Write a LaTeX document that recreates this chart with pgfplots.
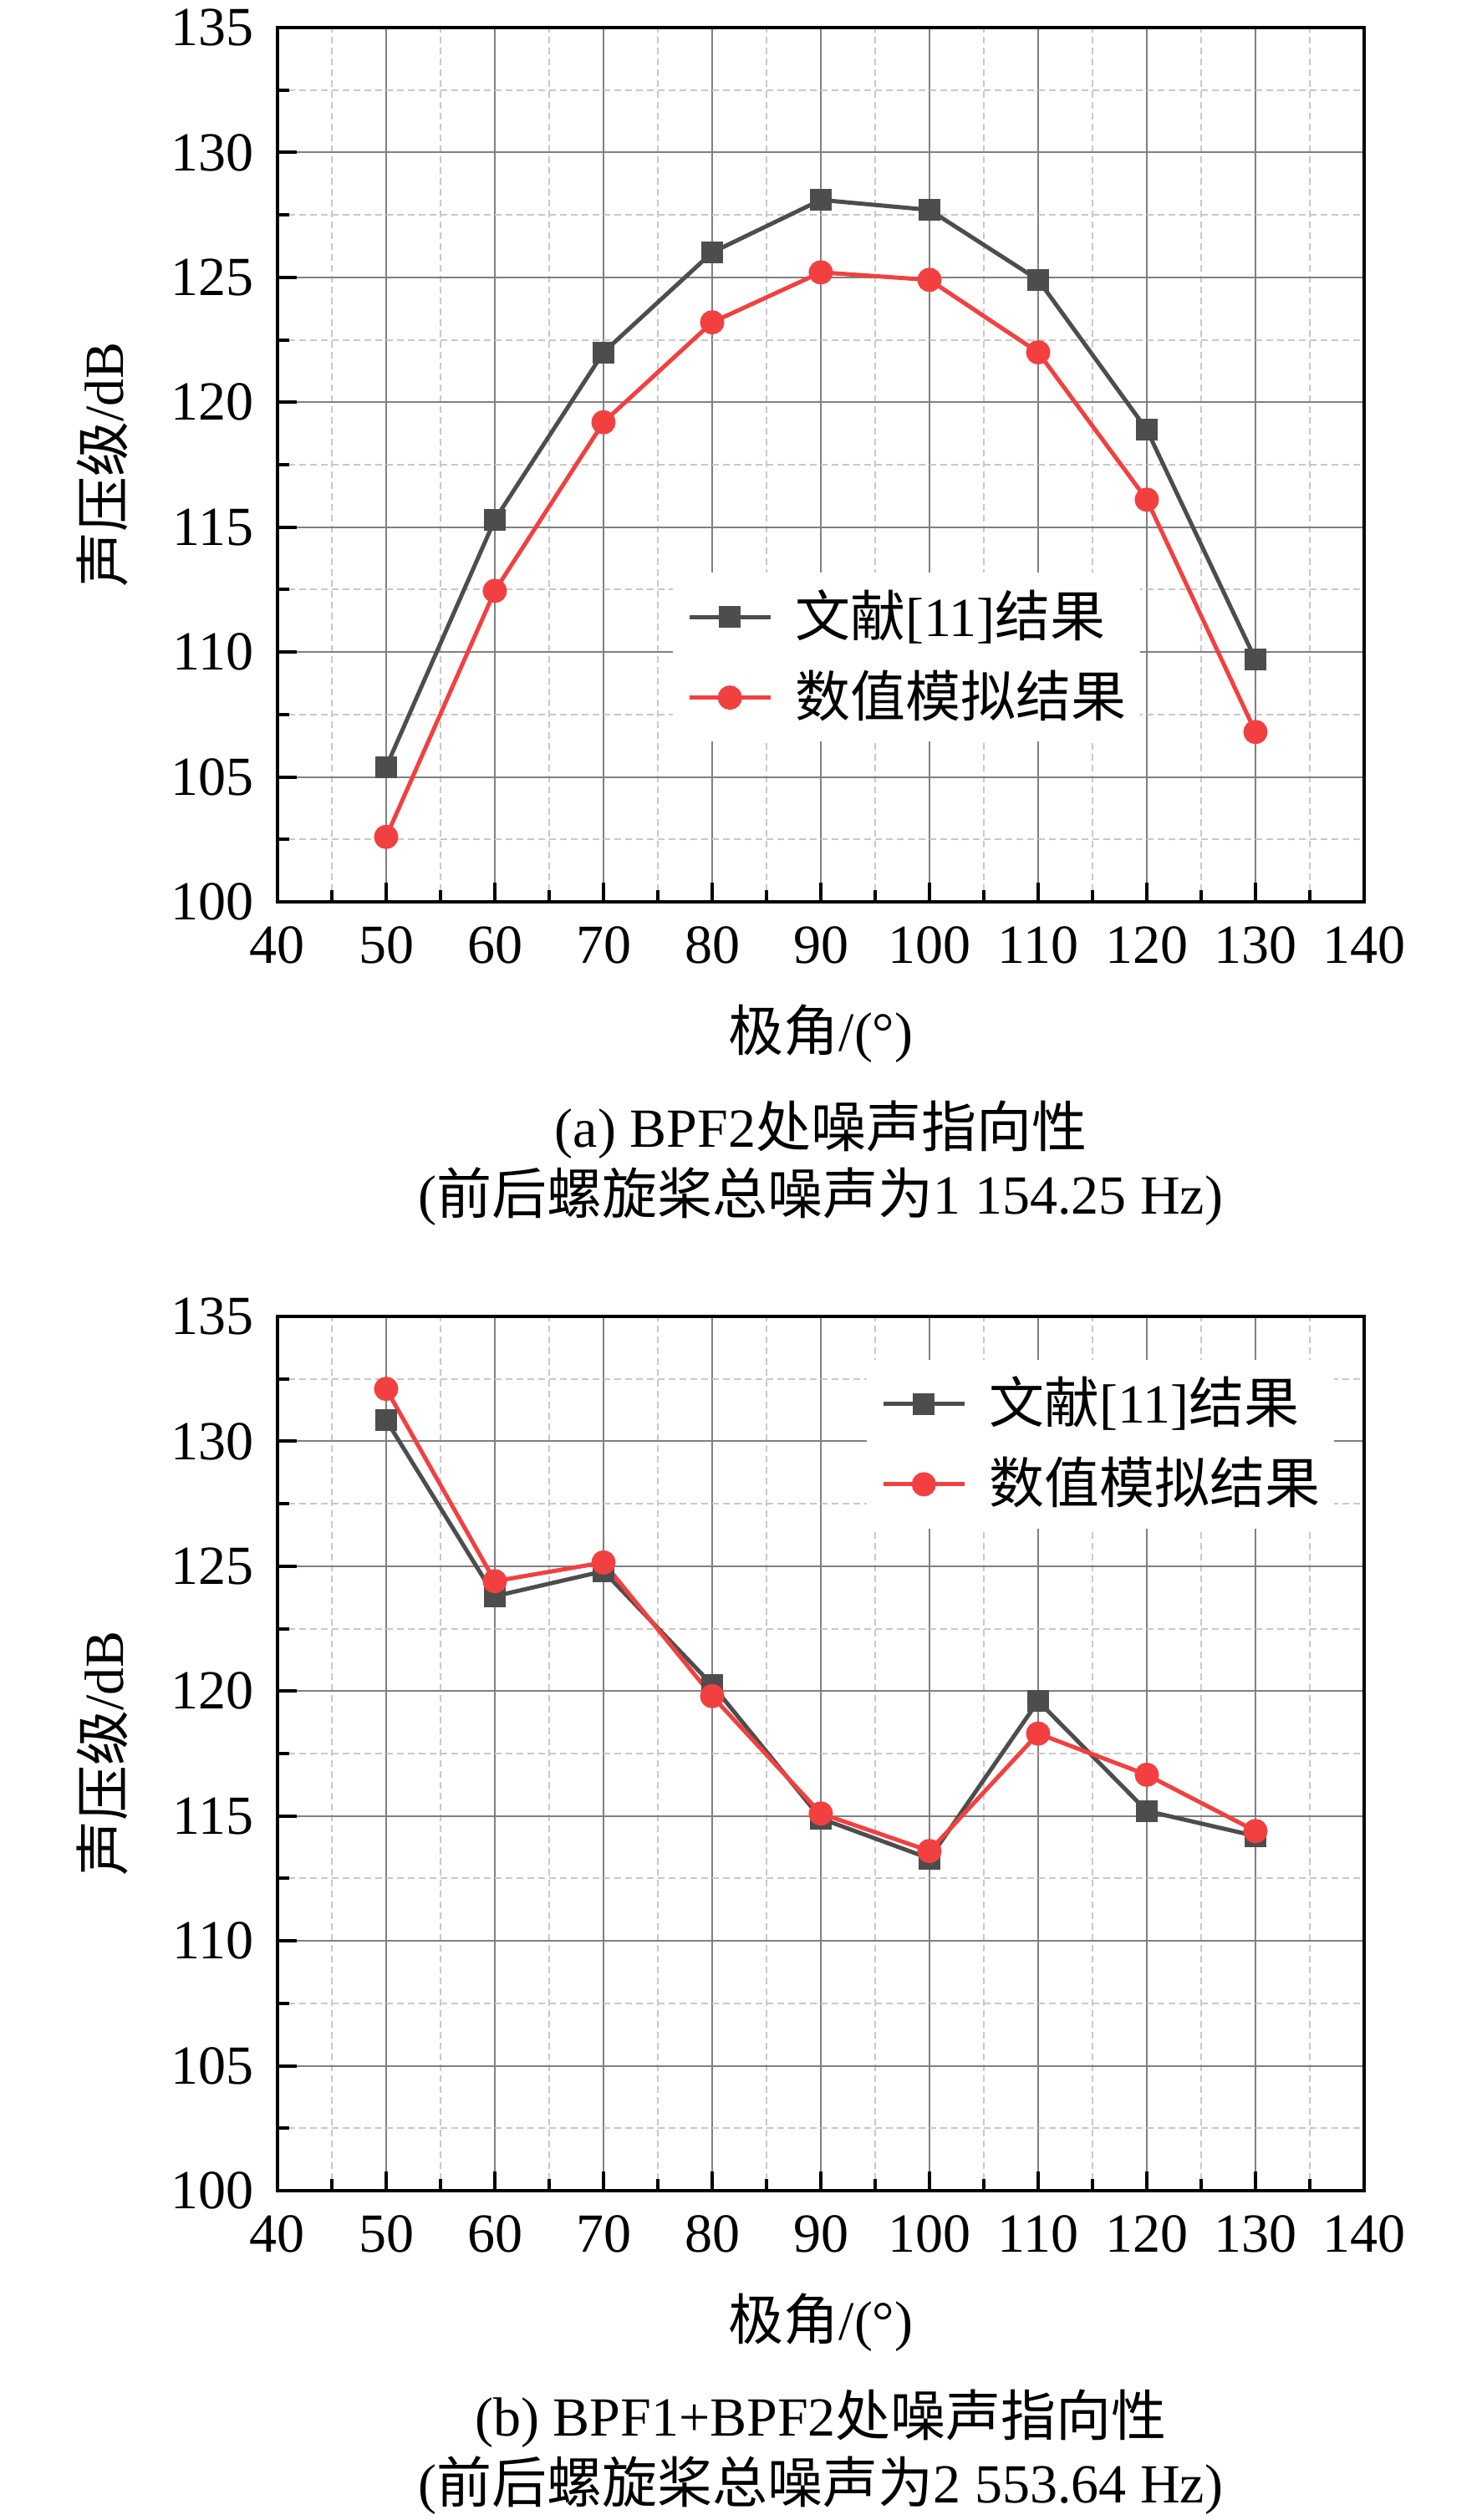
\documentclass[border=0pt]{standalone}
\usepackage{fontspec}
\setmainfont{Liberation Serif}
\newfontfamily\cjk{Noto Sans CJK SC}
\usepackage{pgfplots}
\pgfplotsset{compat=1.18}
\definecolor{sblack}{RGB}{77,77,77}
\definecolor{sred}{RGB}{242,64,64}
\definecolor{gmaj}{RGB}{128,128,128}
\definecolor{gmin}{RGB}{200,200,200}
\pgfplotsset{myax/.style={
  scale only axis, width=195pt, height=156.9pt,
  xmin=40, xmax=140, ymin=100, ymax=135,
  xtick={40,50,...,140}, ytick={100,105,...,135},
  minor x tick num=1, minor y tick num=1,
  tick align=inside, xtick pos=bottom, ytick pos=left,
  major tick length=3.45pt, minor tick length=2.1pt,
  every tick/.style={black, line width=0.6pt},
  axis line style={line width=0.6pt},
  grid=both,
  major grid style={gmaj, line width=0.3pt},
  minor grid style={gmin, line width=0.3pt, dash pattern=on 1.2pt off 0.75pt},
  font=\fontsize{9.9}{11.9}\selectfont,
  /pgf/number format/assume math mode=true,
  xticklabel style={yshift=-0.9pt},
  yticklabel style={xshift=-0.8pt},
  xlabel={{\cjk 极角}/(°)},
  xlabel style={at={(axis description cs:0.5,-0.151)}, anchor=center},
  ylabel={{\cjk 声压级}/dB},
  ylabel style={at={(axis description cs:-0.1615,0.5)}, anchor=center},
  legend cell align=left,
  legend image code/.code={\draw[mark repeat=2, mark phase=2, #1] plot coordinates {(0pt,0pt) (7.275pt,0pt) (14.55pt,0pt)};},
  legend style={draw=none, fill=white, anchor=north west, inner xsep=2.55pt, inner ysep=3pt,
    row sep=4.6pt, column sep=4.05pt, nodes={inner sep=0pt}, font=\fontsize{9.9}{11.9}\selectfont},
  blk/.style={sblack, line width=0.75pt, mark=square*, mark size=1.575pt, mark options={solid, fill=sblack, draw=sblack}},
  rd/.style={sred, line width=0.75pt, mark=*, mark size=1.8pt, mark options={solid, fill=sred, draw=sred}},
}}
\begin{document}
\begin{tikzpicture}
\path[use as bounding box] (0,0) rectangle (265.8pt,452.25pt);
\begin{axis}[myax, at={(49.8pt,290.4pt)}, anchor=south west,
  legend style={at={(0.363,0.3776)}}]
\addplot[blk] coordinates {(50,105.4)(60,115.3)(70,122.0)(80,126.0)(90,128.1)(100,127.7)(110,124.9)(120,118.9)(130,109.7)};
\addlegendentry{{\cjk 文献}[11]{\cjk 结果}}
\addplot[rd] coordinates {(50,102.6)(60,112.45)(70,119.2)(80,123.2)(90,125.2)(100,124.9)(110,122.0)(120,116.1)(130,106.8)};
\addlegendentry{{\cjk 数值模拟结果}}
\end{axis}
\begin{axis}[myax, at={(49.8pt,59.1pt)}, anchor=south west,
  legend style={at={(0.5415,0.952)}}]
\addplot[blk] coordinates {(50,130.85)(60,123.8)(70,124.8)(80,120.25)(90,114.9)(100,113.3)(110,119.6)(120,115.2)(130,114.2)};
\addlegendentry{{\cjk 文献}[11]{\cjk 结果}}
\addplot[rd] coordinates {(50,132.1)(60,124.4)(70,125.15)(80,119.8)(90,115.1)(100,113.6)(110,118.3)(120,116.65)(130,114.4)};
\addlegendentry{{\cjk 数值模拟结果}}
\end{axis}
\begin{scope}[every node/.style={font=\fontsize{9.9}{11.9}\selectfont, inner sep=0pt, anchor=center}]
\node at (147.3pt,249.45pt) {(a) BPF2{\cjk 处噪声指向性}};
\node at (147.3pt,237.45pt) {({\cjk 前后螺旋桨总噪声为}1 154.25 Hz)};
\node at (147.3pt,18.15pt) {(b) BPF1+BPF2{\cjk 处噪声指向性}};
\node at (147.3pt,6.15pt) {({\cjk 前后螺旋桨总噪声为}2 553.64 Hz)};
\end{scope}
\end{tikzpicture}
\end{document}
